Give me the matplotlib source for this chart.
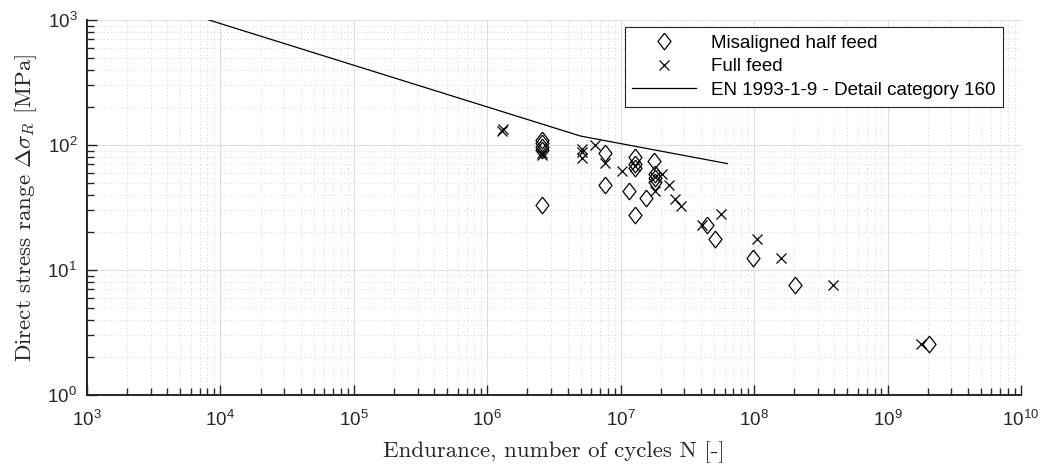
"""S-N plot: misaligned half feed vs full feed against the EN 1993-1-9 curve."""
import matplotlib
matplotlib.use("Agg")
import matplotlib.pyplot as plt
from matplotlib.ticker import LogLocator, NullFormatter

plt.rcParams["mathtext.fontset"] = "cm"

# misaligned half feed (diamonds)
half_N = [2.56e6, 2.56e6, 2.56e6, 2.56e6, 2.56e6, 7.6e6, 7.6e6, 1.16e7, 1.28e7,
          1.28e7, 1.28e7, 1.28e7, 1.55e7, 1.79e7, 1.8e7, 1.8e7, 1.8e7, 4.4e7,
          5.1e7, 9.8e7, 2.03e8, 2.03e9]
half_S = [110, 104, 97, 91, 33, 86, 48, 43, 80, 71, 65, 27.5, 38, 74, 59, 54,
          51, 23, 17.6, 12.5, 7.6, 2.56]

# full feed (crosses)
full_N = [1.29e6, 1.31e6, 2.56e6, 2.56e6, 5.1e6, 5.1e6, 5.1e6, 6.4e6, 7.6e6,
          1.03e7, 1.28e7, 1.8e7, 1.8e7, 2.03e7, 2.32e7, 2.56e7, 2.82e7, 4.05e7,
          5.66e7, 1.05e8, 1.6e8, 3.87e8, 1.79e9]
full_S = [130, 135, 87, 83, 93, 88, 78, 100, 72, 62, 68, 55, 43, 59, 48, 37,
          32.5, 23, 28, 17.6, 12.5, 7.6, 2.56]

# detail category 160: m=3 down to the CAFL at 5e6, m=5 beyond
ec_N = [8.2e3, 5e6, 6.3e7]
ec_S = [1000, 117.9, 71]

x_ticks = [1e3, 1e4, 1e5, 1e6, 1e7, 1e8, 1e9, 1e10]
y_ticks = [1e0, 1e1, 1e2, 1e3]

diamond = [(0, 1), (0.78, 0), (0, -1), (-0.78, 0), (0, 1)]
axcol = "#262626"

fig = plt.figure(figsize=(10.43, 4.67), dpi=100)
ax = fig.add_axes([87 / 1043, 72 / 467, 934 / 1043, 375 / 467])

ax.plot(half_N, half_S, linestyle="none", marker=diamond, markersize=12,
        markerfacecolor="none", markeredgecolor="k", markeredgewidth=0.9,
        label="Misaligned half feed", zorder=3)
ax.plot(full_N, full_S, linestyle="none", marker="x", markersize=7.5,
        color="k", markeredgewidth=0.9, label="Full feed", zorder=3)
ax.plot(ec_N, ec_S, color="k", linewidth=0.9,
        label="EN 1993-1-9 - Detail category 160", zorder=3)

ax.set_xscale("log")
ax.set_yscale("log")
ax.set_xlim(1e3, 1e10)
ax.set_ylim(1e0, 1e3)
ax.set_xticks(x_ticks)
ax.set_yticks(y_ticks)
ax.xaxis.set_minor_locator(LogLocator(base=10, subs=range(2, 10), numticks=100))
ax.yaxis.set_minor_locator(LogLocator(base=10, subs=range(2, 10), numticks=100))
ax.xaxis.set_minor_formatter(NullFormatter())
ax.yaxis.set_minor_formatter(NullFormatter())

ax.grid(True, which="major", color="#dedede", linewidth=0.8, linestyle="-")
ax.grid(True, which="minor", color="#c8c8c8", linewidth=0.6, linestyle=(0, (1, 3)))
ax.set_axisbelow(True)

for side in ("top", "right"):
    ax.spines[side].set_visible(False)
for side in ("bottom", "left"):
    ax.spines[side].set_linewidth(1.4)
    ax.spines[side].set_color(axcol)
ax.tick_params(which="both", direction="in", top=False, right=False, width=1.0,
               color=axcol, labelcolor=axcol)
ax.tick_params(which="major", length=7, labelsize=13.5)
ax.tick_params(which="minor", length=5)
ax.tick_params(axis="x", which="major", pad=11)
ax.tick_params(axis="y", which="major", pad=7)
for lbl in ax.get_xticklabels() + ax.get_yticklabels():
    lbl.set_family("Liberation Sans")

ax.set_xlabel("Endurance, number of cycles N [-]", family="cmr10", fontsize=16.5,
              labelpad=8, color=axcol)
ax.set_ylabel(r"Direct stress range $\Delta\sigma_R$ [MPa]", family="cmr10",
              fontsize=16.5, labelpad=6, color=axcol)

leg = ax.legend(loc="upper right", bbox_to_anchor=(1 - 18 / 934, 1 - 7 / 375),
                borderaxespad=0, fancybox=False, framealpha=1, edgecolor=axcol,
                prop={"family": "Liberation Sans", "size": 13.5},
                handlelength=3.4, borderpad=0.4, labelspacing=0.35)
leg.get_frame().set_linewidth(0.8)

fig.savefig("out.png", dpi=100)
